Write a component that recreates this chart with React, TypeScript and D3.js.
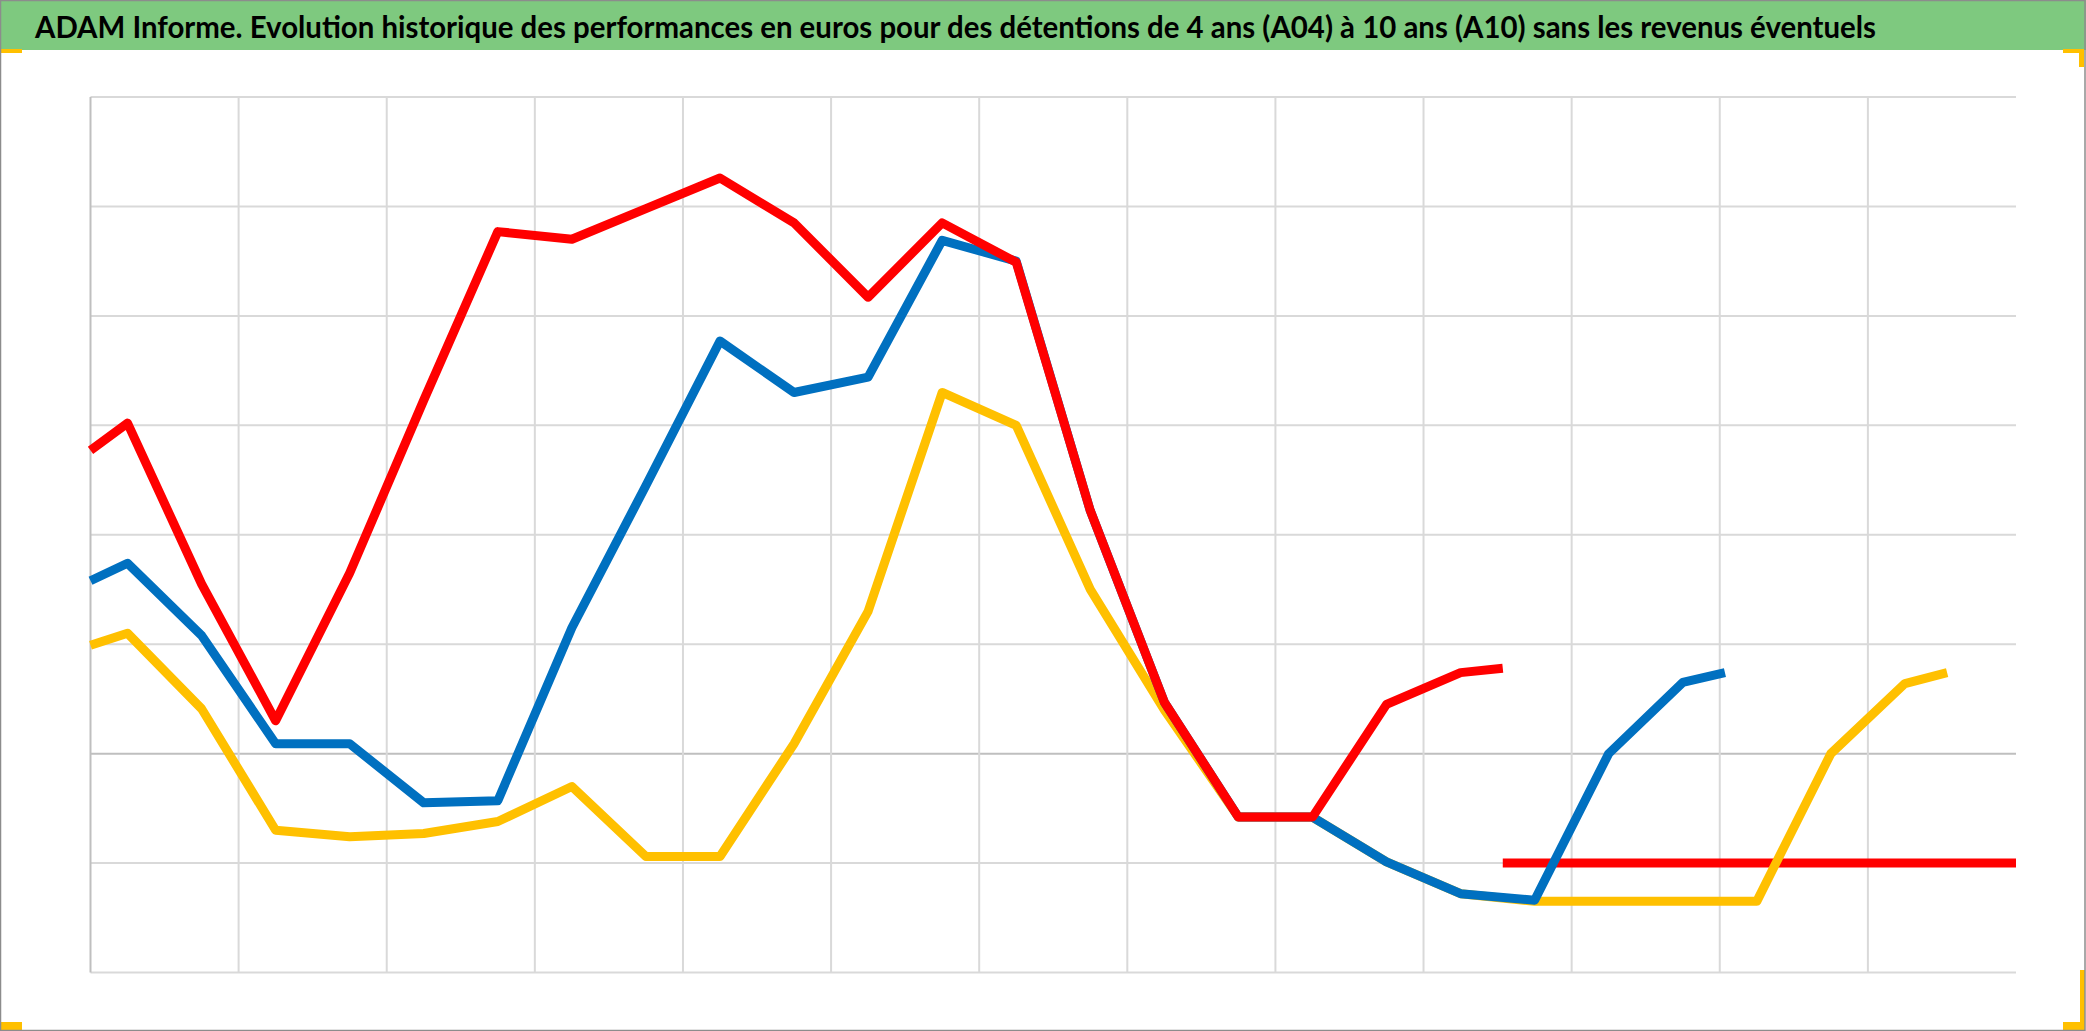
import React from 'react';
import * as d3 from 'd3';

const title =
  'ADAM Informe. Evolution historique des performances en euros pour des détentions de 4 ans (A04) à 10 ans (A10) sans les revenus éventuels';

// values in tens of percent (one gridline = one unit), no axis labels in the original
const seriesNames = ['A04', 'A07', 'A10'];
const a04 = [2.77, 3.02, 1.55, 0.3, 1.65, 3.23, 4.77, 4.7, 4.98, 5.26, 4.85, 4.17, 4.85, 4.49, 2.22, 0.47, -0.58, -0.58, 0.45, 0.74, 0.78];
const a07 = [1.58, 1.74, 1.08, 0.09, 0.09, -0.45, -0.43, 1.15, 2.45, 3.77, 3.3, 3.44, 4.69, 4.5, 2.22, 0.47, -0.58, -0.58, -0.99, -1.28, -1.34, 0.0, 0.65, 0.74];
const a10 = [0.99, 1.1, 0.41, -0.7, -0.76, -0.73, -0.62, -0.3, -0.94, -0.94, 0.09, 1.3, 3.3, 3.0, 1.5, 0.4, -0.58, -0.58, -0.99, -1.28, -1.35, -1.35, -1.35, -1.35, 0.0, 0.64, 0.74];
// last (partial) period of each series
const seriesEnd = [19.07, 22.07, 25.07];
// flat reference line
const floorValues = [-1.0, -1.0];
const floorPeriods = [19.07, 26];

const yTicks = [-2, -1, 0, 1, 2, 3, 4, 5, 6];
const xGrid = [0, 2, 4, 6, 8, 10, 12, 14, 16, 18, 20, 22, 24, 26];

const colors = { A04: '#FF0000', A07: '#0070C0', A10: '#FFC000' };

const W = 2086;
const H = 1031;
const plot = { left: 90.5, right: 2016, top: 97, bottom: 972.5 };

export default function App() {
  const x = d3.scaleLinear().domain([0, 26]).range([plot.left, plot.right]);
  const y = d3.scaleLinear().domain([-2, 6]).range([plot.bottom, plot.top]);

  const toPoints = (vals: number[], end: number) =>
    vals.map((v, i) => ({ p: i === 0 ? 0 : i === vals.length - 1 ? end : i - 0.5, v }));

  const line = d3
    .line<{ p: number; v: number }>()
    .x((d) => x(d.p))
    .y((d) => y(d.v));

  const series = [
    { name: seriesNames[0], pts: toPoints(a04, seriesEnd[0]) },
    { name: seriesNames[1], pts: toPoints(a07, seriesEnd[1]) },
    { name: seriesNames[2], pts: toPoints(a10, seriesEnd[2]) },
  ];
  const floorPts = floorValues.map((v, i) => ({ p: floorPeriods[i], v }));

  const drawOrder = [2, 1, 0];
  const yellow = '#FFC000';

  return (
    <div style={{ position: 'absolute', left: 0, top: 0, width: W, height: H, overflow: 'hidden' }}>
      <svg width={W} height={H} style={{ display: 'block' }}>
        <rect x={0} y={0} width={W} height={H} fill="#ffffff" />
        {/* header */}
        <rect x={0} y={0} width={W} height={50} fill="#7EC97F" />
        <text
          x={35}
          y={38}
          fontFamily="'Liberation Sans Narrow', Lato, 'Open Sans', sans-serif"
          fontWeight="bold"
          fontSize={31}
          fill="#000"
          textLength={1841}
          lengthAdjust="spacingAndGlyphs"
        >
          {title}
        </text>

        {/* gridlines */}
        {yTicks.map((t) => (
          <line
            key={'h' + t}
            x1={plot.left}
            x2={plot.right}
            y1={y(t)}
            y2={y(t)}
            stroke={t === 0 ? '#BFBFBF' : '#D9D9D9'}
            strokeWidth={2}
          />
        ))}
        {xGrid.slice(0, -1).map((t) => (
          <line
            key={'v' + t}
            x1={x(t)}
            x2={x(t)}
            y1={plot.top}
            y2={plot.bottom}
            stroke={t === 0 ? '#BFBFBF' : '#D9D9D9'}
            strokeWidth={2}
          />
        ))}

        {/* flat reference line */}
        <path d={line(floorPts) || ''} fill="none" stroke={colors.A04} strokeWidth={9} />

        {drawOrder.map((i) => (
          <path
            key={series[i].name}
            d={line(series[i].pts) || ''}
            fill="none"
            stroke={(colors as any)[series[i].name]}
            strokeWidth={9}
            strokeLinejoin="round"
          />
        ))}

        {/* frame corners */}
        <rect x={0} y={49} width={22} height={4} fill={yellow} />
        <rect x={0} y={1022} width={22} height={8} fill={yellow} />
        <rect x={2063} y={49} width={21} height={4} fill={yellow} />
        <rect x={2079} y={49} width={5} height={18} fill={yellow} />
        <rect x={2063} y={1022} width={22} height={8} fill={yellow} />
        <rect x={2080} y={970} width={5} height={60} fill={yellow} />
        {/* outer border */}
        <rect x={0.5} y={0.5} width={W - 1.5} height={H - 1} fill="none" stroke="#8C8C8C" strokeWidth={1.5} />
      </svg>
    </div>
  );
}
